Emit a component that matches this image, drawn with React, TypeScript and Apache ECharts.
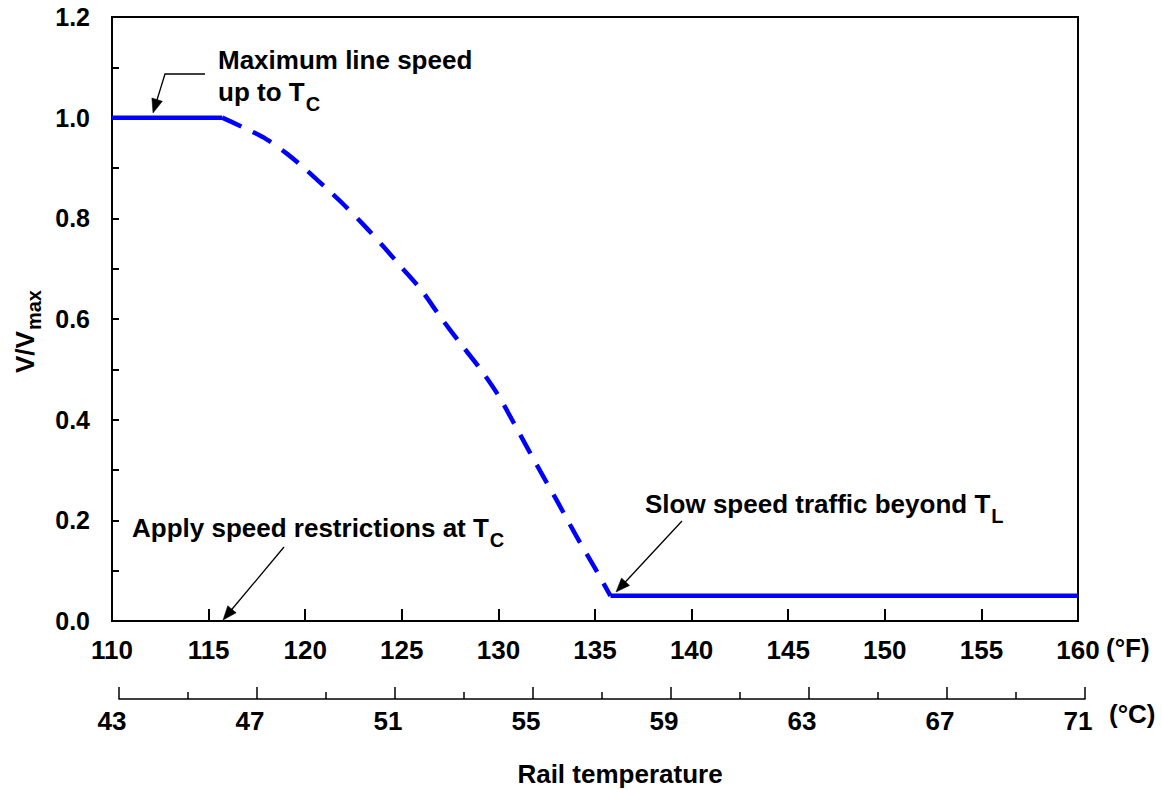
import React, { useEffect, useRef } from "react";
import * as echarts from "echarts";

const FONT = 'Arial, "Liberation Sans", Helvetica, sans-serif';
const BLUE = "#0000ff";

// Axis ranges / tick steps
const fahrenheitMin = 110;
const fahrenheitMax = 160;
const fahrenheitStep = 5;
const celsiusMin = 43;
const celsiusMax = 71;
const celsiusStep = 4;
const speedMin = 0;
const speedMax = 1.2;
const speedStep = 0.2;

// Series: maximum line speed (solid)
const maxSpeedTemps = [110, 115.7];
const maxSpeedValues = [1.0, 1.0];

// Series: speed restriction transition (dashed)
const transitionTemps = [115.7, 117, 118, 119, 120, 121, 122, 123, 124, 125, 126, 127, 128, 129, 130, 131, 132, 133, 134, 135, 135.8];
const transitionValues = [1.0, 0.977, 0.957, 0.93, 0.898, 0.863, 0.827, 0.788, 0.746, 0.702, 0.658, 0.604, 0.553, 0.504, 0.448, 0.379, 0.309, 0.241, 0.171, 0.105, 0.05];

// Series: slow speed traffic (solid)
const slowSpeedTemps = [135.8, 160];
const slowSpeedValues = [0.05, 0.05];

// Texts
const yTitleMain = "V/V";
const yTitleSub = "max";
const xTitle = "Rail temperature";
const unitF = "(°F)";
const unitC = "(°C)";
const note1Line1 = "Maximum line speed";
const note1Line2 = "up to T";
const note1Sub = "C";
const note2 = "Apply speed restrictions at T";
const note2Sub = "C";
const note3 = "Slow speed traffic beyond T";
const note3Sub = "L";

const zip = (xs: number[], ys: number[]) => xs.map((x, i) => [x, ys[i]]);

let measureCtx: CanvasRenderingContext2D | null = null;
function measure(text: string, size: number): number {
  if (!measureCtx) measureCtx = document.createElement("canvas").getContext("2d");
  if (!measureCtx) return text.length * size * 0.55;
  measureCtx.font = `bold ${size}px ${FONT}`;
  return measureCtx.measureText(text).width;
}

function txt(text: string, x: number, y: number, size: number, align = "left", extra: any = {}) {
  return {
    type: "text",
    x,
    y,
    z: 100,
    style: {
      text,
      fontSize: size,
      fontWeight: "bold",
      fontFamily: FONT,
      fill: "#000",
      textAlign: align,
      textVerticalAlign: "middle",
    },
    ...extra,
  };
}

function arrow(points: number[][], headLen = 14, headWidth = 11) {
  const tip = points[points.length - 1];
  const from = points[points.length - 2];
  const dx = tip[0] - from[0];
  const dy = tip[1] - from[1];
  const len = Math.sqrt(dx * dx + dy * dy);
  const ux = dx / len;
  const uy = dy / len;
  const bx = tip[0] - ux * headLen;
  const by = tip[1] - uy * headLen;
  const px = -uy * (headWidth / 2);
  const py = ux * (headWidth / 2);
  const shaft = points.slice(0, -1).concat([[bx + ux * 2, by + uy * 2]]);
  return [
    {
      type: "polyline",
      z: 100,
      shape: { points: shaft },
      style: { stroke: "#000", lineWidth: 1.3, fill: null },
    },
    {
      type: "polygon",
      z: 100,
      shape: { points: [tip, [bx + px, by + py], [bx - px, by - py]] },
      style: { fill: "#000", stroke: "#000", lineWidth: 0.5 },
    },
  ];
}

export default function App() {
  const ref = useRef<HTMLDivElement>(null);

  useEffect(() => {
    if (!ref.current) return;
    const chart = echarts.init(ref.current, null, { renderer: "svg" });

    const noteSize = 26;
    const subSize = 20;

    const n1w = measure(note1Line2, noteSize);
    const n2w = measure(note2, noteSize);
    const n3w = measure(note3, noteSize);
    const yTitleSize = 26;
    const yTitleSubSize = 20;
    const ytw = measure(yTitleMain, yTitleSize);

    const axisText = { color: "#000", fontWeight: "bold", fontFamily: FONT };

    const option: any = {
      animation: false,
      backgroundColor: "#fff",
      grid: [
        { left: 112, right: 84, top: 17, height: 604, show: true, borderColor: "#000", borderWidth: 2, backgroundColor: "transparent" },
        { left: 119, right: 77, top: 600, height: 99, show: false },
      ],
      xAxis: [
        {
          type: "value",
          gridIndex: 0,
          min: fahrenheitMin,
          max: fahrenheitMax,
          interval: fahrenheitStep,
          axisLine: { lineStyle: { color: "#000", width: 2 } },
          axisTick: { inside: true, length: 12, lineStyle: { color: "#000", width: 2 } },
          axisLabel: { ...axisText, fontSize: 26, margin: 16 },
          splitLine: { show: false },
        },
        {
          type: "value",
          gridIndex: 1,
          min: celsiusMin,
          max: celsiusMax,
          interval: celsiusStep,
          axisLine: { lineStyle: { color: "#000", width: 1.5 } },
          axisTick: { inside: true, length: 12, lineStyle: { color: "#000", width: 1.5 } },
          minorTick: { show: true, splitNumber: 2, length: 7, lineStyle: { color: "#000", width: 1.5 } },
          axisLabel: { ...axisText, fontSize: 26, margin: 9, padding: [0, 14, 0, 0] },
          splitLine: { show: false },
        },
      ],
      yAxis: [
        {
          type: "value",
          gridIndex: 0,
          min: speedMin,
          max: speedMax,
          interval: speedStep,
          axisLine: { lineStyle: { color: "#000", width: 2 } },
          axisTick: { inside: true, length: 7, lineStyle: { color: "#000", width: 2 } },
          minorTick: { show: true, splitNumber: 2, length: 7, lineStyle: { color: "#000", width: 2 } },
          axisLabel: { ...axisText, fontSize: 25, margin: 22, formatter: (v: number) => v.toFixed(1) },
          splitLine: { show: false },
        },
        { type: "value", gridIndex: 1, min: 0, max: 1, show: false },
      ],
      series: [
        {
          type: "line",
          xAxisIndex: 0,
          yAxisIndex: 0,
          data: zip(maxSpeedTemps, maxSpeedValues),
          symbol: "none",
          lineStyle: { color: BLUE, width: 4.5, cap: "butt" },
        },
        {
          type: "line",
          xAxisIndex: 0,
          yAxisIndex: 0,
          data: zip(transitionTemps, transitionValues),
          symbol: "none",
          smooth: 0.3,
          lineStyle: { color: BLUE, width: 4.5, type: [21, 13], cap: "butt" },
        },
        {
          type: "line",
          xAxisIndex: 0,
          yAxisIndex: 0,
          data: zip(slowSpeedTemps, slowSpeedValues),
          symbol: "none",
          lineStyle: { color: BLUE, width: 4.5, cap: "butt" },
        },
      ],
      graphic: [
        // Y axis title (rotated)
        {
          type: "group",
          x: 25,
          y: 373,
          rotation: Math.PI / 2,
          children: [
            txt(yTitleMain, 0, 0, yTitleSize),
            txt(yTitleSub, ytw + 1, 9, yTitleSubSize),
          ],
        },
        txt(xTitle, 620, 774, 26, "center"),
        txt(unitF, 1106, 648, 26),
        txt(unitC, 1109, 714, 26),
        txt(note1Line1, 218, 60, noteSize),
        txt(note1Line2, 218, 92, noteSize),
        txt(note1Sub, 218 + n1w + 1, 104, subSize),
        txt(note2, 132, 528, noteSize),
        txt(note2Sub, 132 + n2w + 1, 540, subSize),
        txt(note3, 645, 504, noteSize),
        txt(note3Sub, 645 + n3w + 1, 516, subSize),
        ...arrow([[205, 74], [165, 74], [153, 113]]),
        ...arrow([[284, 547], [223, 620]]),
        ...arrow([[682, 521], [616, 592]]),
      ],
    };

    chart.setOption(option);
    return () => chart.dispose();
  }, []);

  return (
    <div
      ref={ref}
      style={{ position: "absolute", left: 0, top: 0, width: 1162, height: 790, background: "#fff" }}
    />
  );
}
